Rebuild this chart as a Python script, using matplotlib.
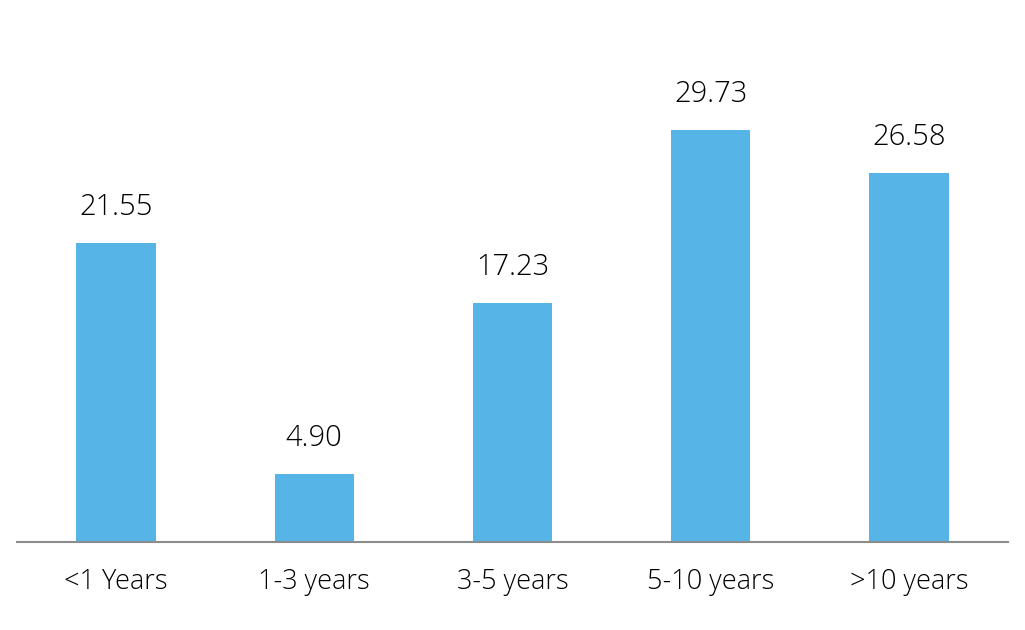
import matplotlib
matplotlib.use('Agg')
import matplotlib.pyplot as plt
import numpy as np

categories = ['<1 Years', '1-3 years', '3-5 years', '5-10 years', '>10 years']
values = [21.55, 4.90, 17.23, 29.73, 26.58]
labels = ['21.55', '4.90', '17.23', '29.73', '26.58']

plt.rcParams['font.family'] = ['Open Sans', 'DejaVu Sans']

fig = plt.figure(figsize=(10.25, 6.3), dpi=100)
ax = fig.add_axes([17 / 1025, 88 / 630, 991 / 1025, 542 / 630])

x = np.arange(len(categories))
ax.bar(x, values, width=0.4, color='#56B4E7')

for xi, v, lab in zip(x, values, labels):
    ax.annotate(lab, (xi, v), xytext=(0, 21), textcoords='offset pixels',
                ha='center', va='bottom', fontsize=21, color='#000000',
                fontweight='light')

ax.set_xlim(-0.5, 4.5)
ax.set_ylim(0, 542 / 13.87)
ax.set_xticks(x)
ax.set_xticklabels(categories, fontsize=19.5, color='#000000', fontweight='light')
ax.tick_params(axis='x', length=0, pad=19)
ax.set_yticks([])
for s in ['top', 'left', 'right']:
    ax.spines[s].set_visible(False)
ax.spines['bottom'].set_color('#8c8c8c')
ax.spines['bottom'].set_linewidth(1.5)

fig.savefig('out.png', dpi=100)
